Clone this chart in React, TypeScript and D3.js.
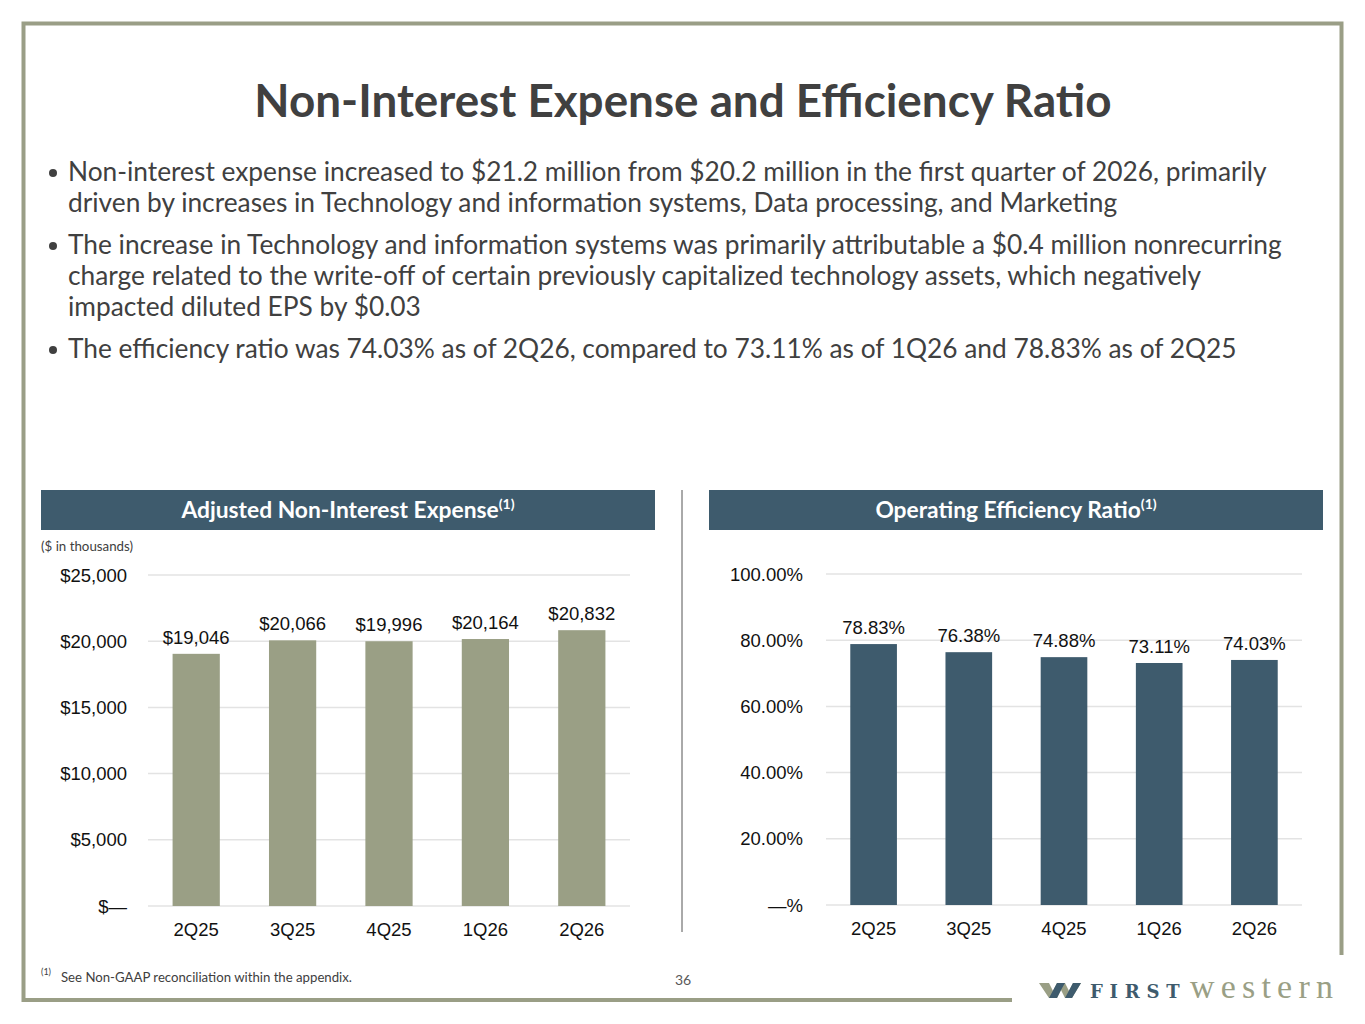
import * as d3 from 'd3';

const quarters = ['2Q25', '3Q25', '4Q25', '1Q26', '2Q26'];
const expenseValues = [19046, 20066, 19996, 20164, 20832];
const efficiencyValues = [78.83, 76.38, 74.88, 73.11, 74.03];
const expenseTicks = [0, 5000, 10000, 15000, 20000, 25000];
const efficiencyTicks = [0, 20, 40, 60, 80, 100];

const bullets = [
  [
    'Non-interest expense increased to $21.2 million from $20.2 million in the first quarter of 2026, primarily',
    'driven by increases in Technology and information systems, Data processing, and Marketing',
  ],
  [
    'The increase in Technology and information systems was primarily attributable a $0.4 million nonrecurring',
    'charge related to the write-off of certain previously capitalized technology assets, which negatively',
    'impacted diluted EPS by $0.03',
  ],
  ['The efficiency ratio was 74.03% as of 2Q26, compared to 73.11% as of 1Q26 and 78.83% as of 2Q25'],
];

const OLIVE = '#9a9f85';
const SLATE = '#3e5b6d';
const FRAME = '#9a9e86';
const TEXT = '#404040';
const GRID = '#e3e3e3';
const CHART_FONT = '"Liberation Sans", Arial, sans-serif';
const LATO = 'Lato, "Open Sans", sans-serif';

const fmtDollar = (v: number) => (v === 0 ? '$—' : '$' + d3.format(',')(v));
const fmtPct = (v: number) => (v === 0 ? '—%' : v.toFixed(2) + '%');

interface BarPanelProps {
  values: number[];
  ticks: number[];
  yMax: number;
  x0: number;
  x1: number;
  y0: number;
  y1: number;
  labelRight: number;
  color: string;
  tickFormat: (v: number) => string;
  valueFormat: (v: number) => string;
}

function BarPanel({ values, ticks, yMax, x0, x1, y0, y1, labelRight, color, tickFormat, valueFormat }: BarPanelProps) {
  const x = d3.scaleBand<string>().domain(quarters).range([x0, x1]).paddingInner(0.51).paddingOuter(0.255);
  const y = d3.scaleLinear().domain([0, yMax]).range([y0, y1]);

  return (
    <g fontFamily={CHART_FONT}>
      {ticks.map((t) => (
        <g key={t}>
          <line x1={x0} x2={x1} y1={y(t)} y2={y(t)} stroke={GRID} strokeWidth={1.5} />
          <text x={labelRight} y={y(t)} dy="0.36em" textAnchor="end" fontSize={18.5} fill="#111">
            {tickFormat(t)}
          </text>
        </g>
      ))}
      {values.map((v, i) => (
        <g key={quarters[i]}>
          <rect x={x(quarters[i])} y={y(v)} width={x.bandwidth()} height={y(0) - y(v)} fill={color} />
          <text
            x={(x(quarters[i]) ?? 0) + x.bandwidth() / 2}
            y={y(v) - 10}
            textAnchor="middle"
            fontSize={18.5}
            fill="#111"
          >
            {valueFormat(v)}
          </text>
          <text
            x={(x(quarters[i]) ?? 0) + x.bandwidth() / 2}
            y={y(0) + 30}
            textAnchor="middle"
            fontSize={18.5}
            fill="#111"
          >
            {quarters[i]}
          </text>
        </g>
      ))}
    </g>
  );
}

function Header({ x, width, label }: { x: number; width: number; label: string }) {
  return (
    <g>
      <rect x={x} y={490} width={width} height={40} fill={SLATE} />
      <text x={x + width / 2} y={518} textAnchor="middle" fontFamily={LATO} fontWeight={700} fontSize={22.8} fill="#fff">
        {label}
        <tspan fontSize={14} dy={-9}>(1)</tspan>
      </text>
    </g>
  );
}

export default function App() {
  let lineY = 181;
  const bulletLines: { text: string; y: number; first: boolean }[] = [];
  bullets.forEach((b) => {
    b.forEach((t, j) => {
      bulletLines.push({ text: t, y: lineY, first: j === 0 });
      lineY += 31;
    });
    lineY += 11;
  });

  return (
    <svg
      width={1365}
      height={1024}
      style={{ position: 'absolute', left: 0, top: 0, background: '#fff' }}
    >
      {/* frame */}
      <path d="M1012,1000 H23.5 V23.5 H1341.5 V955" fill="none" stroke={FRAME} strokeWidth={4} />

      <text x={683} y={117} textAnchor="middle" fontFamily={LATO} fontWeight={700} fontSize={45.8} fill={TEXT}>
        Non-Interest Expense and Efficiency Ratio
      </text>

      <g fontFamily={LATO} fontSize={26.3} fill={TEXT}>
        {bulletLines.map((l, i) => (
          <g key={i}>
            {l.first && <circle cx={53} cy={l.y - 8} r={4} fill={TEXT} />}
            <text x={68} y={l.y}>
              {l.text}
            </text>
          </g>
        ))}
      </g>

      <Header x={41} width={614} label="Adjusted Non-Interest Expense" />
      <Header x={709} width={614} label="Operating Efficiency Ratio" />

      <text x={41} y={551} fontFamily={LATO} fontSize={13.3} fill={TEXT}>
        ($ in thousands)
      </text>

      <line x1={682} x2={682} y1={490} y2={932} stroke="#555" strokeWidth={1} />

      <BarPanel
        values={expenseValues}
        ticks={expenseTicks}
        yMax={25000}
        x0={148}
        x1={630}
        y0={906}
        y1={575}
        labelRight={127}
        color={OLIVE}
        tickFormat={fmtDollar}
        valueFormat={fmtDollar}
      />
      <BarPanel
        values={efficiencyValues}
        ticks={efficiencyTicks}
        yMax={100}
        x0={826}
        x1={1302}
        y0={905}
        y1={574}
        labelRight={803}
        color={SLATE}
        tickFormat={fmtPct}
        valueFormat={fmtPct}
      />

      {/* footnote */}
      <g fontFamily={LATO} fill={TEXT}>
        <text x={41} y={975} fontSize={9}>(1)</text>
        <text x={61} y={982} fontSize={13.2}>See Non-GAAP reconciliation within the appendix.</text>
      </g>
      <text x={683} y={985} textAnchor="middle" fontFamily={LATO} fontSize={14} fill="#595959">
        36
      </text>

      {/* logo */}
      <g>
        <polygon
          points="1039,983 1049,983 1053,991 1057,983 1065,983 1069,991 1073,983 1081,983 1072,998 1065,998 1061,990 1057,998 1049,998"
          fill={OLIVE}
        />
        <polygon points="1057,983 1065,983 1061,990 1057,998 1049,998" fill={SLATE} />
        <polygon points="1073,983 1081,983 1072,998 1065,998" fill={SLATE} />
        <text x={1090} y={998} fontFamily='"DejaVu Serif", "Liberation Serif", serif' fontWeight={700} fontSize={18} letterSpacing={6.8} fill={SLATE}>
          FIRST
        </text>
        <text x={1190} y={998} fontFamily='"Liberation Serif", "DejaVu Serif", serif' fontSize={34} letterSpacing={6.2} fill={OLIVE}>
          western
        </text>
      </g>
    </svg>
  );
}
